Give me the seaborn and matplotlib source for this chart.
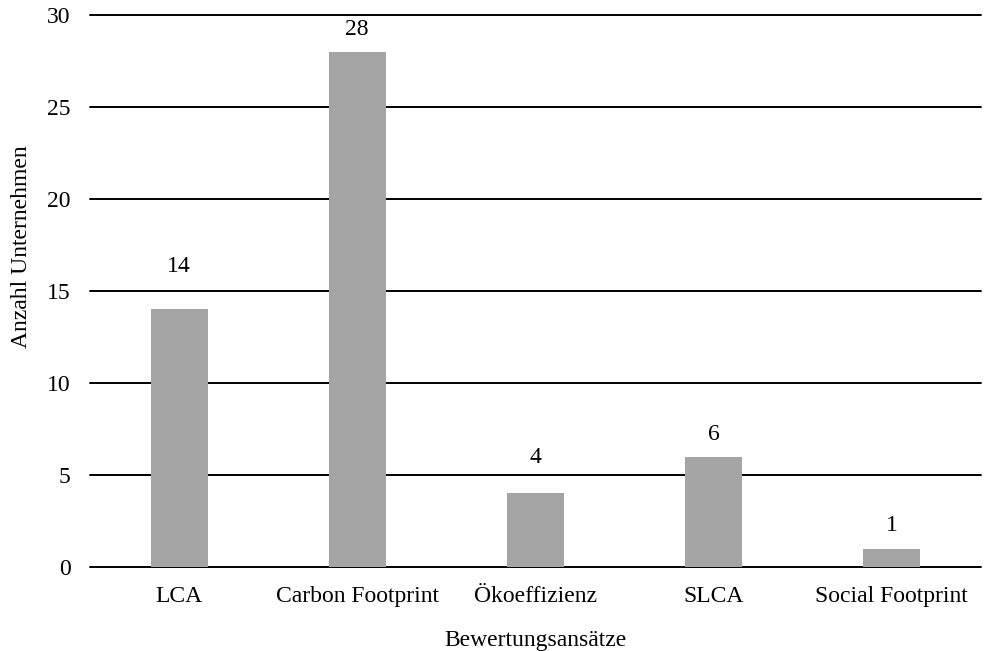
import numpy as np
import pandas as pd
import matplotlib
matplotlib.use('Agg')
import matplotlib.pyplot as plt
import seaborn as sns

# Bewertungsansaetze und Anzahl Unternehmen
categories = ['LCA', 'Carbon Footprint', 'Ökoeffizienz', 'SLCA', 'Social Footprint']
counts = [14, 28, 4, 6, 1]
yticks = [0, 5, 10, 15, 20, 25, 30]

df = pd.DataFrame({'ansatz': categories, 'anzahl': counts})

sns.set_style('white')
plt.rcParams['font.family'] = ['Liberation Serif', 'DejaVu Serif']
plt.rcParams['text.color'] = 'black'
plt.rcParams['axes.labelcolor'] = 'black'
plt.rcParams['xtick.color'] = 'black'
plt.rcParams['ytick.color'] = 'black'

fig = plt.figure(figsize=(9.84, 6.51), dpi=100)
ax = fig.add_axes([0.0915, 0.129, 0.905, 0.848])

sns.barplot(data=df, x='ansatz', y='anzahl', color='#a5a5a5', width=0.32,
            saturation=1, edgecolor='none', linewidth=0, ax=ax, zorder=3)

ax.set_ylim(0, 30)
ax.set_yticks(yticks)
ax.yaxis.grid(True, color='black', linewidth=1.4, zorder=0)
for gl in ax.get_ygridlines():
    gl.set_clip_on(False)
ax.set_axisbelow(True)
for s in ax.spines.values():
    s.set_visible(False)
fs = 17
ax.tick_params(axis='both', length=0, labelsize=fs, colors='black')
ax.tick_params(axis='y', pad=14)
ax.tick_params(axis='x', pad=14)
ax.set_xlim(-0.5, 4.5)

# label offsets in points (Excel places them unevenly)
label_offsets = [31, 16, 26, 16, 17]
for i, v in enumerate(counts):
    ax.annotate(str(v), (i, v), xytext=(0, label_offsets[i]), textcoords='offset points',
                ha='center', va='center', fontsize=fs, color='black')

ax.set_xlabel('Bewertungsansätze', fontsize=fs, labelpad=16, color='black')
ax.set_ylabel('Anzahl Unternehmen', fontsize=fs, labelpad=11, color='black', y=0.58)

fig.savefig('out.png', dpi=100)
